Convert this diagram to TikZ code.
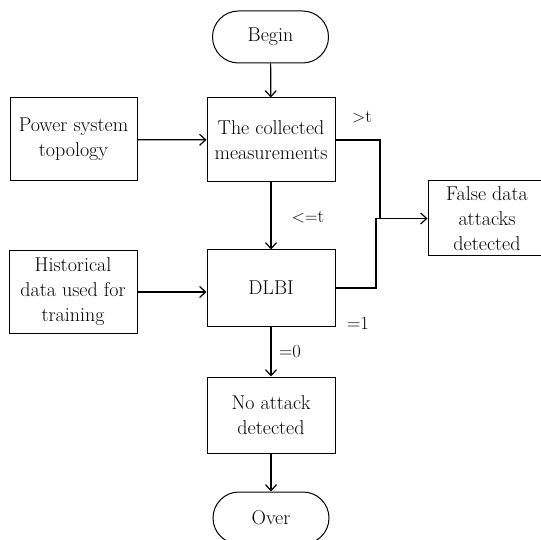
\documentclass[tikz,border=0pt]{standalone}
\usetikzlibrary{arrows.meta}
\tikzset{
  box/.style={draw, line width=1pt, align=center, inner sep=2pt, font=\fontsize{20}{25}\selectfont},
  term/.style={box, rounded corners=26pt, minimum width=116pt, minimum height=52pt},
  conn/.style={line width=1.2pt, -{Straight Barb[length=6pt,width=11pt,line width=1.2pt]}},
  line/.style={line width=1.2pt},
  lbl/.style={font=\fontsize{18.5}{20}\selectfont, inner sep=0pt}
}
\begin{document}
\begin{tikzpicture}[x=1pt,y=1pt]
\useasboundingbox (0,0) rectangle (541,539);
\begin{scope}
\clip (0,0) rectangle (541,539);
\node[term] (begin) at (270.5,502) {Begin};
\node[box, minimum width=128pt, minimum height=84pt] (meas) at (271,399) {The collected\\measurements};
\node[box, minimum width=127pt, minimum height=83pt] (power) at (73.5,399.5) {Power system\\topology};
\node[box, minimum width=128pt, minimum height=76pt] (dlbi) at (271,251) {DLBI};
\node[box, minimum width=128pt, minimum height=82pt] (hist) at (73,247) {Historical\\data used for\\training};
\node[box, minimum width=118pt, minimum height=75pt] (false) at (487,320.5) {False data\\attacks\\detected};
\node[box, minimum width=128pt, minimum height=76pt] (noatt) at (271,124) {No attack\\detected};
\node[term] (over) at (271,21) {Over};

\coordinate (j1) at (380,320.5);
\coordinate (j2) at (376,320.5);

\draw[conn] (begin) -- (meas);
\draw[conn] (power) -- (meas);
\draw[conn] (meas) -- (dlbi);
\draw[conn] (hist.east) -- (hist.east -| dlbi.west);
\draw[conn] (dlbi) -- (noatt);
\draw[conn] (noatt) -- (over);
\draw[line] (meas.east) -| (j1);
\draw[line] (dlbi.east) -| (j2);
\draw[conn] (j2) -- (false.west);

\node[lbl] (l1) at (362,422) {$>$t};
\node[lbl] (l2) at (308,322) {$<=$t};
\node[lbl] (l3) at (358,216) {=1};
\node[lbl] (l4) at (290,187) {=0};
\end{scope}
\end{tikzpicture}
\end{document}
